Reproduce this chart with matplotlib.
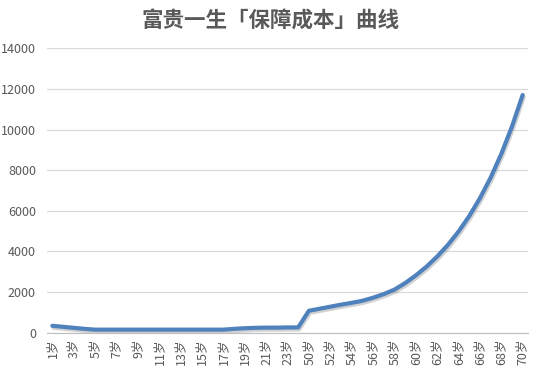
import matplotlib
matplotlib.use('Agg')
import matplotlib.pyplot as plt
import matplotlib.patheffects as pe

plt.rcParams['font.family'] = ['Noto Sans CJK SC', 'DejaVu Sans']

# ages on the category axis: 1-24 and 50-70
ages = list(range(1, 25)) + list(range(50, 71))
cost = [340, 290, 240, 190, 150, 150, 150, 150, 150, 150,
        150, 150, 150, 150, 150, 150, 150, 190, 220, 240,
        250, 250, 260, 260,
        1080, 1180, 1280, 1380, 1470, 1570, 1720, 1900, 2120, 2440,
        2820, 3250, 3750, 4320, 4980, 5740, 6620, 7630, 8800, 10150,
        11700]
yticks = [0, 2000, 4000, 6000, 8000, 10000, 12000, 14000]
title = '富贵一生「保障成本」曲线'

labels = [str(a) + '岁' for a in ages]
x = list(range(len(ages)))

fig = plt.figure(figsize=(5.41, 3.87), dpi=100)
ax = fig.add_axes([0.0869, 0.1403, 0.976 - 0.0869, 0.8752 - 0.1403])

ax.plot(x, cost, color='#4F81BD', lw=3.0, solid_capstyle='round',
        path_effects=[pe.SimpleLineShadow(offset=(0.8, -1.5), shadow_color='#808080', alpha=0.35),
                      pe.Normal()])

ax.set_xlim(-0.5, len(ages) - 0.5)
ax.set_ylim(0, 14000)
ax.set_yticks(yticks)
ax.set_yticklabels([str(v) for v in yticks])
ax.set_xticks(x[::2])
ax.set_xticklabels(labels[::2], rotation=90)

ax.grid(axis='y', color='#D9D9D9', lw=0.9)
ax.set_axisbelow(True)
for s in ['top', 'right', 'left']:
    ax.spines[s].set_visible(False)
ax.spines['bottom'].set_color('#BFBFBF')
ax.tick_params(axis='both', length=0, colors='#595959', labelsize=9)
ax.tick_params(axis='y', pad=8)
ax.tick_params(axis='x', pad=4)

fig.text(0.5, 0.945, title, ha='center', va='center', fontsize=15.5,
         fontweight='bold', color='#595959')

fig.savefig('out.png', dpi=100)
